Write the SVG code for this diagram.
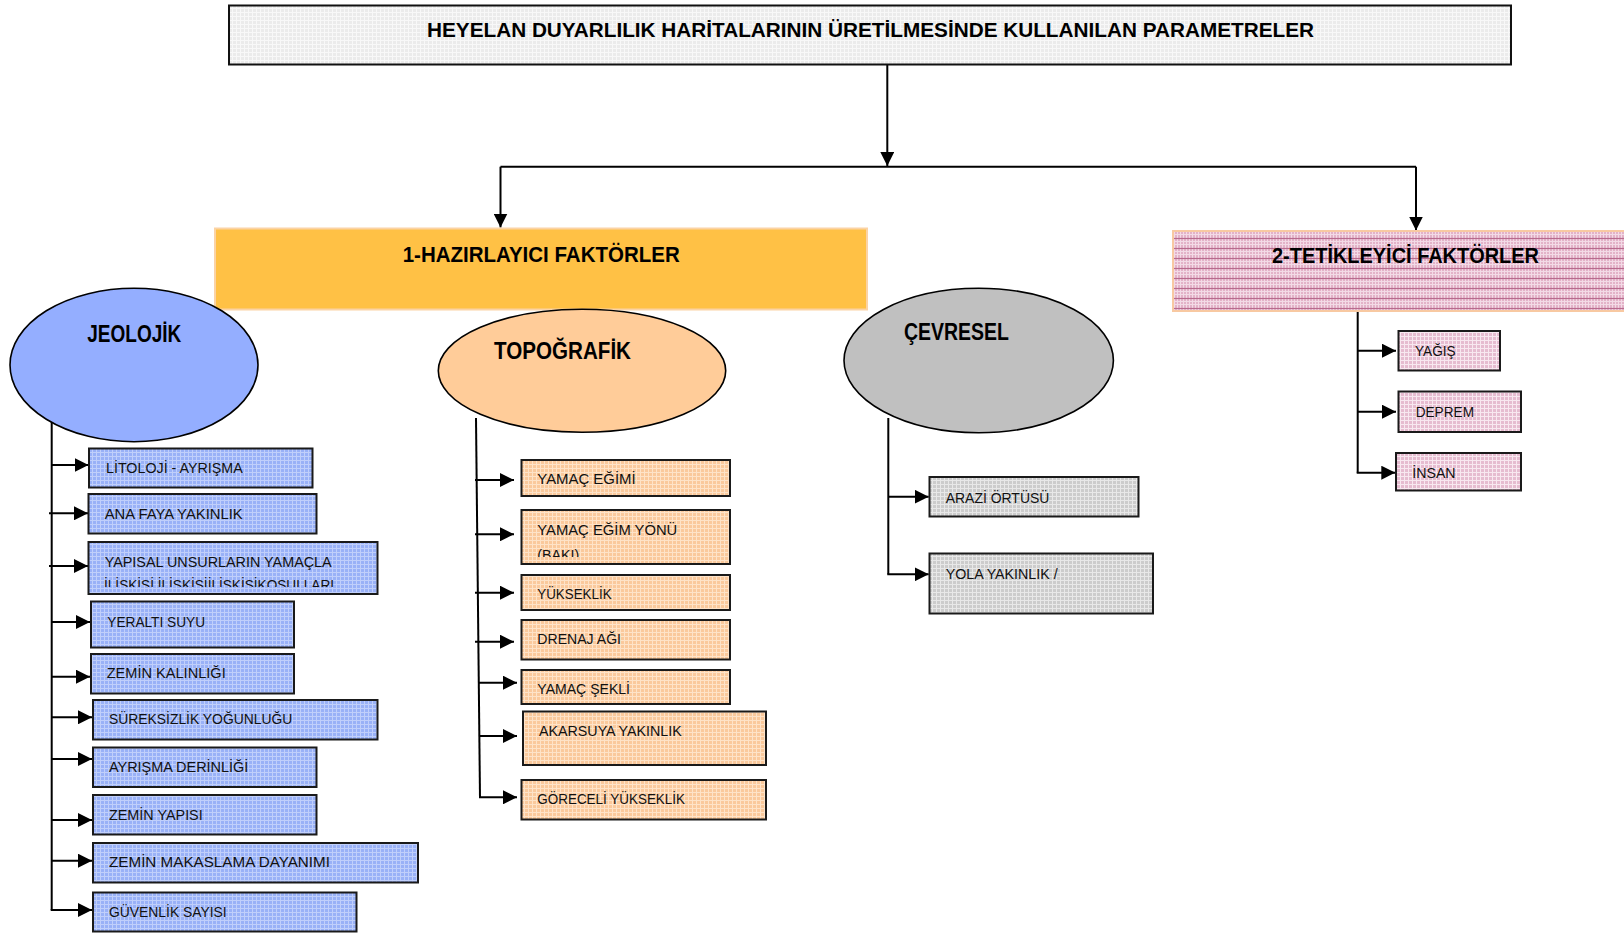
<svg xmlns="http://www.w3.org/2000/svg" width="1624" height="934" viewBox="0 0 1624 934">
  <defs>
    <style>
      .lbl { font-family: "Liberation Sans", Arial, sans-serif; font-size: 15.5px; fill: #111; }
      .hd { font-family: "Liberation Sans", Arial, sans-serif; font-weight: bold; fill: #000; }
      .box { stroke: #1a1a1a; stroke-width: 2; }
      .ell { stroke: #000; stroke-width: 1.6; }
      .wire { fill: none; stroke: #000; stroke-width: 2; }
      .arr { fill: none; stroke: #000; stroke-width: 2; marker-end: url(#ah); }
    </style>
    <marker id="ah" viewBox="0 0 14 14" refX="14" refY="7" markerWidth="14" markerHeight="14" markerUnits="userSpaceOnUse" orient="auto">
      <path d="M0,0 L14,7 L0,14 z" fill="#000"/>
    </marker>
    <!-- fine grid fills -->
    <pattern id="gTitle" width="4" height="4" patternUnits="userSpaceOnUse">
      <rect width="4" height="4" fill="#EBEBEB"/>
      <path d="M0,0.5H4M0.5,0V4" stroke="#F8F8F8" stroke-width="1"/>
    </pattern>
    <pattern id="gBlue" width="4" height="4" patternUnits="userSpaceOnUse">
      <rect width="4" height="4" fill="#99B1F7"/>
      <path d="M0,0.5H4M0.5,0V4" stroke="#C0CFFB" stroke-width="1"/>
    </pattern>
    <pattern id="gPeach" width="4" height="4" patternUnits="userSpaceOnUse">
      <rect width="4" height="4" fill="#FAC99C"/>
      <path d="M0,0.5H4M0.5,0V4" stroke="#FEE3C8" stroke-width="1"/>
    </pattern>
    <pattern id="gGray" width="4" height="4" patternUnits="userSpaceOnUse">
      <rect width="4" height="4" fill="#CCCCCC"/>
      <path d="M0,0.5H4M0.5,0V4" stroke="#E8E8E8" stroke-width="1"/>
    </pattern>
    <pattern id="gPink" width="4" height="4" patternUnits="userSpaceOnUse">
      <rect width="4" height="4" fill="#E6BCD0"/>
      <path d="M0,0.5H4M0.5,0V4" stroke="#F8E8F0" stroke-width="1"/>
    </pattern>
    <pattern id="gPinkStripe" width="6" height="10" patternUnits="userSpaceOnUse">
      <rect width="6" height="10" fill="#E3B2C8"/>
      <path d="M0,1.5H6M0,4.5H6M1.5,0V10M4.5,0V10" stroke="#F3DAE6" stroke-width="1"/>
      <path d="M0,8.5H6" stroke="#B86A8E" stroke-width="1.2"/>
    </pattern>
    <clipPath id="clipYapisal"><rect x="90" y="543" width="286" height="44"/></clipPath>
    <clipPath id="clipBaki"><rect x="523" y="512" width="205" height="45"/></clipPath>
  </defs>

  <rect width="1624" height="934" fill="#fff"/>

  <!-- connectors -->
  <g id="connectors">
    <path class="arr" d="M887.3,65 V166"/>
    <path class="wire" d="M500.5,166.7 H1416"/>
    <path class="arr" d="M500.5,166.7 V227.5"/>
    <path class="arr" d="M1416,166.7 V230.5"/>

    <!-- geological branch -->
    <path class="wire" d="M51.7,418 V910"/>
    <path class="arr" d="M51.7,465 H88.5"/>
    <path class="arr" d="M49,513.3 H88"/>
    <path class="arr" d="M49,566 H88"/>
    <path class="arr" d="M51.7,622 H90"/>
    <path class="arr" d="M51.7,676.7 H90"/>
    <path class="arr" d="M51.7,717.3 H92"/>
    <path class="arr" d="M51.7,759 H92"/>
    <path class="arr" d="M51.7,820 H92"/>
    <path class="arr" d="M51.7,860.7 H92"/>
    <path class="arr" d="M50.7,910 H92"/>

    <!-- topographic branch -->
    <path class="wire" d="M476,418 L480,798"/>
    <path class="arr" d="M475,480 H514"/>
    <path class="arr" d="M475,534.3 H514"/>
    <path class="arr" d="M475,592.7 H514"/>
    <path class="arr" d="M475,641.7 H514"/>
    <path class="arr" d="M479,682.7 H517"/>
    <path class="arr" d="M479,736 H517"/>
    <path class="arr" d="M479,797.3 H517"/>

    <!-- environmental branch -->
    <path class="wire" d="M888.3,418 V574.3"/>
    <path class="arr" d="M888.3,496.7 H928.7"/>
    <path class="arr" d="M887.3,574.3 H928.7"/>

    <!-- triggering branch -->
    <path class="wire" d="M1357.7,312 V472.7"/>
    <path class="arr" d="M1357.7,350.7 H1396"/>
    <path class="arr" d="M1357.7,411.7 H1396"/>
    <path class="arr" d="M1356.7,472.7 H1395.3"/>
  </g>

  <!-- title -->
  <g id="title">
    <rect x="229" y="5.5" width="1282" height="59" fill="url(#gTitle)" stroke="#111" stroke-width="2"/>
    <text class="hd" x="427" y="37.3" font-size="21" textLength="887" lengthAdjust="spacingAndGlyphs">HEYELAN DUYARLILIK HARİTALARININ ÜRETİLMESİNDE KULLANILAN PARAMETRELER</text>
  </g>

  <!-- main groups -->
  <g id="hazirlayici">
    <rect x="215" y="228.5" width="652" height="81" fill="#FFC145" stroke="#FBD3A5" stroke-width="2"/>
    <text class="hd" x="402.7" y="261.7" font-size="22" textLength="277" lengthAdjust="spacingAndGlyphs">1-HAZIRLAYICI FAKTÖRLER</text>
  </g>
  <g id="tetikleyici">
    <rect x="1173" y="231" width="470" height="80" fill="url(#gPinkStripe)" stroke="#F8C9A2" stroke-width="2"/>
    <text class="hd" x="1272" y="263" font-size="22" textLength="267" lengthAdjust="spacingAndGlyphs">2-TETİKLEYİCİ FAKTÖRLER</text>
  </g>

  <!-- category ellipses -->
  <g id="jeolojik">
    <ellipse class="ell" cx="134" cy="365" rx="124" ry="76.7" fill="#94AEFF"/>
    <text class="hd" x="87.3" y="342" font-size="23" textLength="94" lengthAdjust="spacingAndGlyphs">JEOLOJİK</text>
  </g>
  <g id="topografik">
    <ellipse class="ell" cx="582" cy="370.8" rx="143.7" ry="61.5" fill="#FFCC99"/>
    <text class="hd" x="494" y="359" font-size="23" textLength="137" lengthAdjust="spacingAndGlyphs">TOPOĞRAFİK</text>
  </g>
  <g id="cevresel">
    <ellipse class="ell" cx="978.7" cy="360.5" rx="134.7" ry="72.2" fill="#C0C0C0"/>
    <text class="hd" x="904" y="339.5" font-size="23" textLength="105" lengthAdjust="spacingAndGlyphs">ÇEVRESEL</text>
  </g>

  <!-- geological parameters -->
  <g id="j-litoloji">
    <rect class="box" x="89" y="448.5" width="223.5" height="39" fill="url(#gBlue)"/>
    <text class="lbl" x="106" y="473.3" textLength="136.7" lengthAdjust="spacingAndGlyphs">LİTOLOJİ - AYRIŞMA</text>
  </g>
  <g id="j-fay">
    <rect class="box" x="88.5" y="494" width="228" height="39.5" fill="url(#gBlue)"/>
    <text class="lbl" x="104.7" y="519.3" textLength="138" lengthAdjust="spacingAndGlyphs">ANA FAYA YAKINLIK</text>
  </g>
  <g id="j-yapisal">
    <rect class="box" x="88.5" y="542" width="289" height="52" fill="url(#gBlue)"/>
    <g clip-path="url(#clipYapisal)">
      <text class="lbl" x="104.7" y="567" textLength="227" lengthAdjust="spacingAndGlyphs">YAPISAL UNSURLARIN YAMAÇLA</text>
      <text class="lbl" x="104" y="589.5" textLength="230" lengthAdjust="spacingAndGlyphs">İLİŞKİSİ İLİŞKİSİİLİŞKİSİKOŞULLARI</text>
    </g>
  </g>
  <g id="j-yeralti">
    <rect class="box" x="91" y="601.5" width="203" height="46" fill="url(#gBlue)"/>
    <text class="lbl" x="107.3" y="626.5" textLength="97.7" lengthAdjust="spacingAndGlyphs">YERALTI SUYU</text>
  </g>
  <g id="j-kalinlik">
    <rect class="box" x="91" y="654" width="203" height="39.5" fill="url(#gBlue)"/>
    <text class="lbl" x="106.7" y="678.3" textLength="119" lengthAdjust="spacingAndGlyphs">ZEMİN KALINLIĞI</text>
  </g>
  <g id="j-sureksizlik">
    <rect class="box" x="93" y="700" width="284.5" height="39.5" fill="url(#gBlue)"/>
    <text class="lbl" x="109" y="724.3" textLength="183.3" lengthAdjust="spacingAndGlyphs">SÜREKSİZLİK YOĞUNLUĞU</text>
  </g>
  <g id="j-ayrisma">
    <rect class="box" x="93" y="747.5" width="223.5" height="39.5" fill="url(#gBlue)"/>
    <text class="lbl" x="109" y="772" textLength="139.3" lengthAdjust="spacingAndGlyphs">AYRIŞMA DERİNLİĞİ</text>
  </g>
  <g id="j-zeminyapisi">
    <rect class="box" x="93" y="795" width="223.5" height="39.5" fill="url(#gBlue)"/>
    <text class="lbl" x="109" y="820" textLength="93.7" lengthAdjust="spacingAndGlyphs">ZEMİN YAPISI</text>
  </g>
  <g id="j-makaslama">
    <rect class="box" x="93" y="843" width="325" height="39.5" fill="url(#gBlue)"/>
    <text class="lbl" x="109" y="866.7" textLength="221" lengthAdjust="spacingAndGlyphs">ZEMİN MAKASLAMA DAYANIMI</text>
  </g>
  <g id="j-guvenlik">
    <rect class="box" x="93" y="892.5" width="263.5" height="39" fill="url(#gBlue)"/>
    <text class="lbl" x="109" y="917.3" textLength="117.7" lengthAdjust="spacingAndGlyphs">GÜVENLİK SAYISI</text>
  </g>

  <!-- topographic parameters -->
  <g id="t-egim">
    <rect class="box" x="521.5" y="460" width="208.5" height="36" fill="url(#gPeach)"/>
    <text class="lbl" x="537.3" y="484.3" textLength="98.3" lengthAdjust="spacingAndGlyphs">YAMAÇ EĞİMİ</text>
  </g>
  <g id="t-baki">
    <rect class="box" x="521.5" y="510" width="208.5" height="54" fill="url(#gPeach)"/>
    <g clip-path="url(#clipBaki)">
      <text class="lbl" x="537.3" y="535" textLength="140" lengthAdjust="spacingAndGlyphs">YAMAÇ EĞİM YÖNÜ</text>
      <text class="lbl" x="537.3" y="559.5" textLength="42" lengthAdjust="spacingAndGlyphs">(BAKI)</text>
    </g>
  </g>
  <g id="t-yukseklik">
    <rect class="box" x="521.5" y="575" width="208.5" height="35" fill="url(#gPeach)"/>
    <text class="lbl" x="537.3" y="599" textLength="74.3" lengthAdjust="spacingAndGlyphs">YÜKSEKLİK</text>
  </g>
  <g id="t-drenaj">
    <rect class="box" x="521.5" y="620" width="208.5" height="39.5" fill="url(#gPeach)"/>
    <text class="lbl" x="537.3" y="644" textLength="83.7" lengthAdjust="spacingAndGlyphs">DRENAJ AĞI</text>
  </g>
  <g id="t-sekil">
    <rect class="box" x="521.5" y="670" width="208.5" height="34" fill="url(#gPeach)"/>
    <text class="lbl" x="537.3" y="693.5" textLength="92.7" lengthAdjust="spacingAndGlyphs">YAMAÇ ŞEKLİ</text>
  </g>
  <g id="t-akarsu">
    <rect class="box" x="523" y="711.5" width="243" height="53.5" fill="url(#gPeach)"/>
    <text class="lbl" x="539" y="736" textLength="142.7" lengthAdjust="spacingAndGlyphs">AKARSUYA YAKINLIK</text>
  </g>
  <g id="t-goreceli">
    <rect class="box" x="521.5" y="780" width="244.5" height="39.5" fill="url(#gPeach)"/>
    <text class="lbl" x="537.3" y="804" textLength="147.7" lengthAdjust="spacingAndGlyphs">GÖRECELİ YÜKSEKLİK</text>
  </g>

  <!-- environmental parameters -->
  <g id="c-arazi">
    <rect class="box" x="929.5" y="477" width="209" height="39.5" fill="url(#gGray)"/>
    <text class="lbl" x="945.7" y="502.7" textLength="103.7" lengthAdjust="spacingAndGlyphs">ARAZİ ÖRTÜSÜ</text>
  </g>
  <g id="c-yol">
    <rect class="box" x="929.5" y="553.5" width="223.5" height="60" fill="url(#gGray)"/>
    <text class="lbl" x="945.7" y="579" textLength="112" lengthAdjust="spacingAndGlyphs">YOLA YAKINLIK /</text>
  </g>

  <!-- triggering parameters -->
  <g id="k-yagis">
    <rect class="box" x="1398.5" y="331" width="101.5" height="39.5" fill="url(#gPink)"/>
    <text class="lbl" x="1415" y="355.5" textLength="40.7" lengthAdjust="spacingAndGlyphs">YAĞIŞ</text>
  </g>
  <g id="k-deprem">
    <rect class="box" x="1398.5" y="391.5" width="122.5" height="40.5" fill="url(#gPink)"/>
    <text class="lbl" x="1415.7" y="416.7" textLength="58.3" lengthAdjust="spacingAndGlyphs">DEPREM</text>
  </g>
  <g id="k-insan">
    <rect class="box" x="1396" y="453" width="125" height="37.5" fill="url(#gPink)"/>
    <text class="lbl" x="1412.3" y="478.3" textLength="43.3" lengthAdjust="spacingAndGlyphs">İNSAN</text>
  </g>
</svg>
